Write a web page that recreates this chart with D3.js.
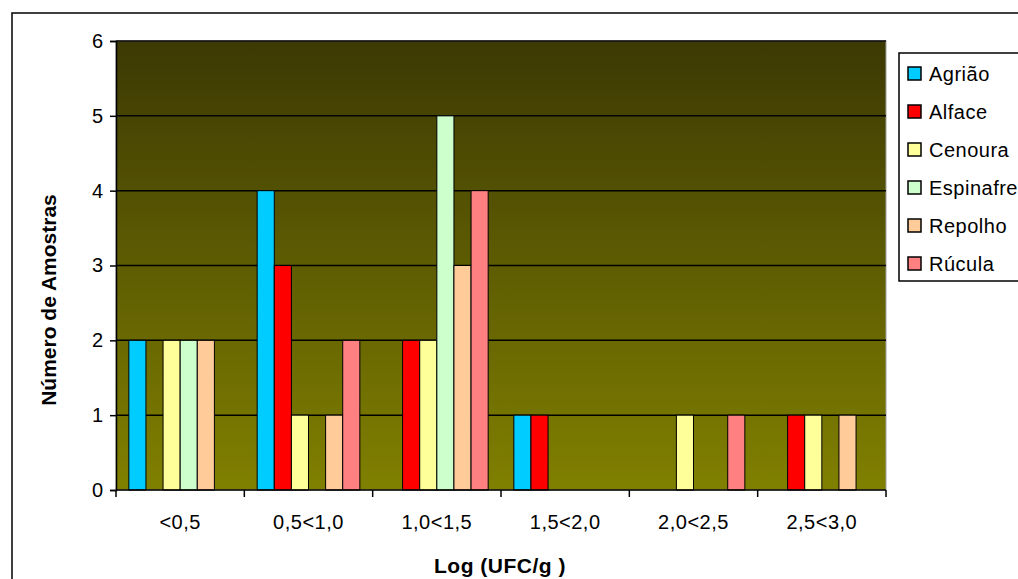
<!DOCTYPE html>
<meta charset="utf-8" />
<script src="https://d3js.org/d3.v7.js"></script>
<style>
  body { margin: 0; background: #fff; overflow: hidden; }
  text { font-family: "Liberation Sans", Arial, sans-serif; }
</style>
<div id="chart"></div>
<script>
  // data
  const categories = ["<0,5", "0,5<1,0", "1,0<1,5", "1,5<2,0", "2,0<2,5", "2,5<3,0"];
  const seriesNames = ["Agrião", "Alface", "Cenoura", "Espinafre", "Repolho", "Rúcula"];
  const seriesColors = ["#00ccff", "#ff0000", "#ffff99", "#ccffcc", "#ffcc99", "#ff8080"];
  const agriao = [2, 4, 0, 1, 0, 0];
  const alface = [0, 3, 2, 1, 0, 1];
  const cenoura = [2, 1, 2, 0, 1, 1];
  const espinafre = [2, 0, 5, 0, 0, 0];
  const repolho = [2, 1, 3, 0, 0, 1];
  const rucula = [0, 2, 4, 0, 1, 0];
  const yTicks = [0, 1, 2, 3, 4, 5, 6];

  const allSeries = [agriao, alface, cenoura, espinafre, repolho, rucula];

  const width = 1018;
  const height = 579;
  const plot = { left: 116, right: 886, top: 41, bottom: 490 };

  const svg = d3
    .select("#chart")
    .append("svg")
    .attr("width", width)
    .attr("height", height);

  // outer chart frame (runs off the right/bottom edges)
  svg
    .append("rect")
    .attr("x", 12)
    .attr("y", 13)
    .attr("width", 1100)
    .attr("height", 700)
    .attr("fill", "white")
    .attr("stroke", "black")
    .attr("stroke-width", 1.5);

  // background gradient of plot area
  const grad = svg
    .append("defs")
    .append("linearGradient")
    .attr("id", "bg")
    .attr("x1", 0)
    .attr("y1", 0)
    .attr("x2", 0)
    .attr("y2", 1);
  grad.append("stop").attr("offset", "0%").attr("stop-color", "#3c3904");
  grad.append("stop").attr("offset", "100%").attr("stop-color", "#808000");

  const x0 = d3
    .scaleBand()
    .domain(categories)
    .range([plot.left, plot.right]);

  // Excel-like: 6 bars + 150% gap per category
  const barW = x0.bandwidth() / 7.5;
  const x1 = d3
    .scaleBand()
    .domain(seriesNames)
    .range([barW * 0.75, barW * 6.75]);

  const y = d3.scaleLinear().domain([0, 6]).range([plot.bottom, plot.top]);

  svg
    .append("rect")
    .attr("x", plot.left)
    .attr("y", plot.top)
    .attr("width", plot.right - plot.left)
    .attr("height", plot.bottom - plot.top)
    .attr("fill", "url(#bg)")
    .attr("stroke", "#a0a0a0")
    .attr("stroke-width", 1);

  // gridlines
  svg
    .append("g")
    .selectAll("line")
    .data(yTicks.slice(1))
    .join("line")
    .attr("x1", plot.left)
    .attr("x2", plot.right)
    .attr("y1", (d) => y(d))
    .attr("y2", (d) => y(d))
    .attr("stroke", "black")
    .attr("stroke-width", 1.5);

  // bars
  const rows = [];
  categories.forEach((c, i) => {
    seriesNames.forEach((s, j) => {
      if (allSeries[j][i] > 0) rows.push({ cat: c, name: s, value: allSeries[j][i], color: seriesColors[j] });
    });
  });

  svg
    .append("g")
    .selectAll("rect")
    .data(rows)
    .join("rect")
    .attr("x", (d) => x0(d.cat) + x1(d.name))
    .attr("y", (d) => y(d.value))
    .attr("width", x1.bandwidth())
    .attr("height", (d) => y(0) - y(d.value))
    .attr("fill", (d) => d.color)
    .attr("stroke", "black")
    .attr("stroke-width", 1);

  // y axis
  const yAxis = svg
    .append("g")
    .attr("transform", `translate(${plot.left},0)`)
    .call(d3.axisLeft(y).tickValues(yTicks).tickSize(6).tickPadding(7).tickFormat(d3.format("d")));
  yAxis.select(".domain").attr("stroke-width", 1.5);
  yAxis.selectAll("line").attr("stroke-width", 1.5);
  yAxis.selectAll("text").style("font-size", "20px").attr("fill", "black");

  // x axis: ticks at category boundaries
  const xAxis = svg.append("g").attr("transform", `translate(0,${plot.bottom})`);
  xAxis
    .append("line")
    .attr("x1", plot.left)
    .attr("x2", plot.right)
    .attr("stroke", "black")
    .attr("stroke-width", 1.5);
  const bounds = categories.map((c) => x0(c)).concat([plot.right]);
  xAxis
    .selectAll(".tk")
    .data(bounds)
    .join("line")
    .attr("class", "tk")
    .attr("x1", (d) => d)
    .attr("x2", (d) => d)
    .attr("y1", 0)
    .attr("y2", 7)
    .attr("stroke", "black")
    .attr("stroke-width", 1.5);
  xAxis
    .selectAll(".lbl")
    .data(categories)
    .join("text")
    .attr("class", "lbl")
    .attr("x", (d) => x0(d) + x0.bandwidth() / 2)
    .attr("y", 39)
    .attr("text-anchor", "middle")
    .style("font-size", "20px")
    .style("letter-spacing", "0.5px")
    .text((d) => d);

  // axis titles
  svg
    .append("text")
    .attr("x", 500)
    .attr("y", 573)
    .attr("text-anchor", "middle")
    .style("font-size", "21px")
    .style("font-weight", "bold")
    .style("letter-spacing", "0.5px")
    .text("Log (UFC/g )");

  svg
    .append("text")
    .attr("transform", "translate(56,300) rotate(-90)")
    .attr("text-anchor", "middle")
    .style("font-size", "21px")
    .style("font-weight", "bold")
    .text("Número de Amostras");

  // legend
  const legend = svg.append("g");
  legend
    .append("rect")
    .attr("x", 899)
    .attr("y", 53)
    .attr("width", 140)
    .attr("height", 228)
    .attr("fill", "white")
    .attr("stroke", "black")
    .attr("stroke-width", 1.5);
  const items = legend
    .selectAll(".item")
    .data(seriesNames)
    .join("g")
    .attr("class", "item")
    .attr("transform", (d, i) => `translate(0,${73.5 + i * 38})`);
  items
    .append("rect")
    .attr("x", 908)
    .attr("y", -6.5)
    .attr("width", 13)
    .attr("height", 13)
    .attr("fill", (d, i) => seriesColors[i])
    .attr("stroke", "black")
    .attr("stroke-width", 1.5);
  items
    .append("text")
    .attr("x", 929)
    .attr("y", 7)
    .style("font-size", "20px")
    .style("letter-spacing", "0.5px")
    .text((d) => d);
</script>
